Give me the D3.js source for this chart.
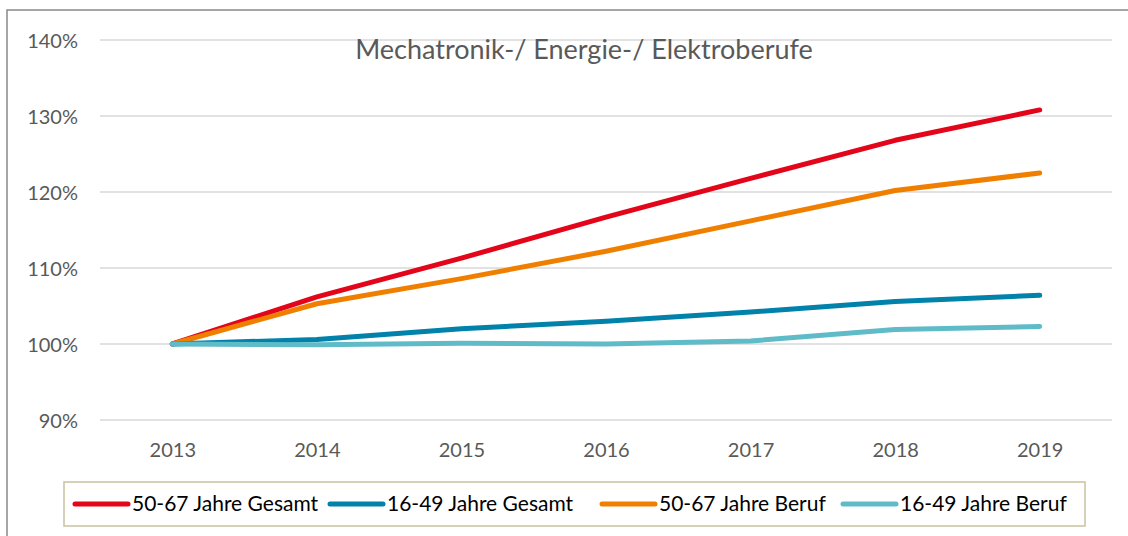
<!DOCTYPE html>
<html>
<head>
<meta charset="utf-8">
<script src="https://cdn.jsdelivr.net/npm/d3@7"></script>
<style>
  body { margin: 0; background: #fff; }
  svg { display: block; font-family: Lato, "Open Sans", sans-serif; }
  .grid line { stroke: #d9d9d9; stroke-width: 1.5; }
  .tick-label { fill: #595959; font-size: 20px; }
  .legend text { fill: #000; font-size: 21px; }
</style>
</head>
<body>
<svg width="1128" height="536"></svg>
<script>
// daten
var years = ['2013', '2014', '2015', '2016', '2017', '2018', '2019'];
var yTicks = [0.9, 1.0, 1.1, 1.2, 1.3, 1.4];
var seriesNames = ['50-67 Jahre Gesamt', '16-49 Jahre Gesamt', '50-67 Jahre Beruf', '16-49 Jahre Beruf'];
var gesamt5067 = [1.000, 1.062, 1.113, 1.167, 1.218, 1.268, 1.308];
var gesamt1649 = [1.000, 1.006, 1.020, 1.030, 1.042, 1.056, 1.064];
var beruf5067 = [1.000, 1.053, 1.086, 1.122, 1.162, 1.202, 1.225];
var beruf1649 = [1.000, 0.999, 1.001, 1.000, 1.004, 1.019, 1.023];
var colors = ['#e3061b', '#0082ab', '#f07f00', '#60bbc9'];
var title = 'Mechatronik-/ Energie-/ Elektroberufe';

var svg = d3.select('svg');

// rahmen
svg.append('rect')
    .attr('x', 7).attr('y', 10)
    .attr('width', 1130).attr('height', 540)
    .attr('fill', 'none')
    .attr('stroke', '#898989')
    .attr('stroke-width', 1.5);

var plotLeft = 100, plotRight = 1112, plotTop = 40, plotBottom = 420;

var x = d3.scalePoint().domain(years).range([plotLeft, plotRight]).padding(0.5);
var y = d3.scaleLinear().domain([0.9, 1.4]).range([plotBottom, plotTop]);

// gitterlinien
svg.append('g').attr('class', 'grid')
    .selectAll('line')
    .data(yTicks)
    .enter()
        .append('line')
        .attr('x1', plotLeft).attr('x2', plotRight)
        .attr('y1', function (d) { return y(d); })
        .attr('y2', function (d) { return y(d); });

// y-achse
var yAxis = svg.append('g')
    .attr('transform', 'translate(' + (plotLeft - 22) + ',0)')
    .call(d3.axisLeft(y).tickValues(yTicks).tickFormat(d3.format('.0%')).tickSize(0).tickPadding(0));
yAxis.attr('font-family', null).attr('font-size', null);
yAxis.select('.domain').remove();
yAxis.selectAll('text').attr('class', 'tick-label').attr('dy', '0.35em');

// x-achse
var xAxis = svg.append('g')
    .attr('transform', 'translate(0,' + (plotBottom + 23) + ')')
    .call(d3.axisBottom(x).tickSize(0).tickPadding(0));
xAxis.attr('font-family', null).attr('font-size', null);
xAxis.select('.domain').remove();
xAxis.selectAll('text').attr('class', 'tick-label').attr('dy', '0.71em');

// titel
svg.append('text')
    .attr('x', 584).attr('y', 59)
    .attr('text-anchor', 'middle')
    .attr('fill', '#595959')
    .style('font-size', '27px')
    .text(title);

// linien
var allSeries = [gesamt5067, gesamt1649, beruf5067, beruf1649];
var line = d3.line()
    .x(function (d, i) { return x(years[i]); })
    .y(function (d) { return y(d); });

// zeichenreihenfolge wie im original: beruf 16-49 oben
var drawOrder = [0, 2, 1, 3];
svg.append('g')
    .selectAll('path')
    .data(drawOrder)
    .enter()
        .append('path')
        .attr('d', function (k) { return line(allSeries[k]); })
        .attr('fill', 'none')
        .attr('stroke', function (k) { return colors[k]; })
        .attr('stroke-width', 5)
        .attr('stroke-linecap', 'round')
        .attr('stroke-linejoin', 'round');

// legende
var legend = svg.append('g').attr('class', 'legend');
legend.append('rect')
    .attr('x', 64).attr('y', 482)
    .attr('width', 1021).attr('height', 44)
    .attr('fill', '#fff')
    .attr('stroke', '#c9c29f')
    .attr('stroke-width', 1.5);

var itemX = [75, 330, 602, 843];
var items = legend.selectAll('g.item')
    .data(seriesNames)
    .enter()
        .append('g')
        .attr('class', 'item')
        .attr('transform', function (d, i) { return 'translate(' + itemX[i] + ',504)'; });
items.append('line')
    .attr('x1', 0).attr('x2', 53)
    .attr('stroke', function (d, i) { return colors[i]; })
    .attr('stroke-width', 5)
    .attr('stroke-linecap', 'round');
items.append('text')
    .attr('x', 57).attr('dy', '0.35em')
    .text(function (d) { return d; });
</script>
</body>
</html>
